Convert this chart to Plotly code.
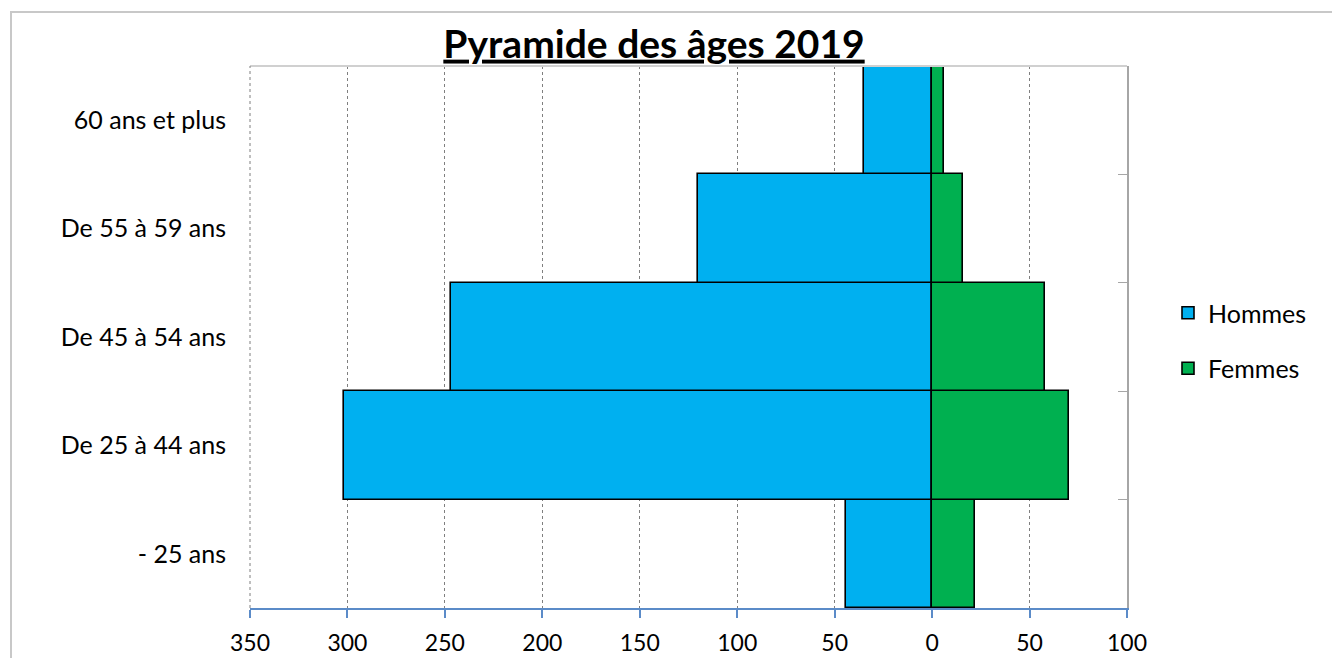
import plotly.graph_objects as go

categories = ["- 25 ans", "De 25 à 44 ans", "De 45 à 54 ans", "De 55 à 59 ans", "60 ans et plus"]
hommes = [44, 302, 247, 120, 35]
femmes = [22, 70, 58, 16, 6]
tick_vals = [-350, -300, -250, -200, -150, -100, -50, 0, 50, 100]
tick_text = [str(abs(v)) for v in tick_vals]

FONT = "Lato"
OFF = 8  # default page body margin
W, H = 1340 - OFF, 658 - OFF
L, T = 250 - OFF, 66 - OFF
pw, ph = 877, 542
R, B = W - L - pw, H - T - ph

def px_x(px):
    return (px - OFF - L) / pw

def px_y(py):
    return (T + ph - (py - OFF)) / ph

fig = go.Figure()
fig.add_trace(go.Bar(
    y=categories, x=[-v for v in hommes], orientation="h", name="Hommes",
    marker=dict(color="#00B0F0", line=dict(color="black", width=1.6)),
    legendgroup="h", hoverinfo="skip"))
fig.add_trace(go.Bar(
    y=categories, x=femmes, orientation="h", name="Femmes",
    marker=dict(color="#00B050", line=dict(color="black", width=1.6)),
    legendgroup="f", hoverinfo="skip"))
# helper trace so the right category axis is drawn
fig.add_trace(go.Scatter(y=categories, x=[None] * len(categories), yaxis="y2",
                         showlegend=False, hoverinfo="skip", mode="markers"))

fig.update_layout(
    width=W, height=H,
    margin=dict(l=L, r=R, t=T, b=B, autoexpand=False),
    paper_bgcolor="white", plot_bgcolor="white",
    barmode="relative", bargap=0,
    font=dict(family=FONT, size=22, color="black"),
    title=dict(text="<b><u>Pyramide des âges 2019</u></b>", x=(654 - OFF) / W, xref="container",
               xanchor="center", y=1 - (44 - OFF) / H, yref="container", yanchor="middle",
               font=dict(family=FONT, size=39, color="black")),
    xaxis=dict(range=[-350, 100], tickvals=tick_vals, ticktext=tick_text, automargin=False,
               showgrid=True, gridcolor="#7F7F7F", griddash="dot", gridwidth=1,
               zeroline=False, showline=True, linecolor="#5B8BC8", linewidth=2,
               ticks="outside", ticklen=8, tickcolor="#5B8BC8", tickwidth=1.5,
               ticklabelstandoff=5, tickfont=dict(size=23)),
    yaxis=dict(type="category", categoryorder="array", categoryarray=categories,
               range=[-0.5, 4.5], showgrid=False, zeroline=False, showline=False,
               automargin=False, ticks="", ticklabelstandoff=23, tickfont=dict(size=25)),
    yaxis2=dict(type="category", categoryorder="array", categoryarray=categories,
                range=[-0.5, 4.5], overlaying="y", side="right", showgrid=False,
                zeroline=False, showline=True, linecolor="#A6A6A6", linewidth=2,
                automargin=False, tickson="boundaries", ticks="inside", ticklen=9,
                tickcolor="#A6A6A6", showticklabels=False),
    legend=dict(x=px_x(1168), y=px_y(290), xanchor="left", yanchor="top",
                traceorder="grouped", tracegroupgap=20,
                font=dict(family=FONT, size=25, color="black"),
                bgcolor="rgba(0,0,0,0)"),
    shapes=[
        dict(type="line", xref="paper", yref="paper", x0=0, x1=1, y0=1, y1=1,
             line=dict(color="#D0D0D0", width=2)),
        dict(type="line", xref="paper", yref="paper", x0=0, x1=0, y0=0, y1=1,
             line=dict(color="#7F7F7F", width=1, dash="dot")),
        dict(type="rect", xref="paper", yref="paper",
             x0=px_x(11), x1=px_x(1400),
             y0=px_y(700), y1=px_y(12),
             line=dict(color="#C8C8C8", width=2), layer="below"),
    ],
)

fig.write_html("out.html")
